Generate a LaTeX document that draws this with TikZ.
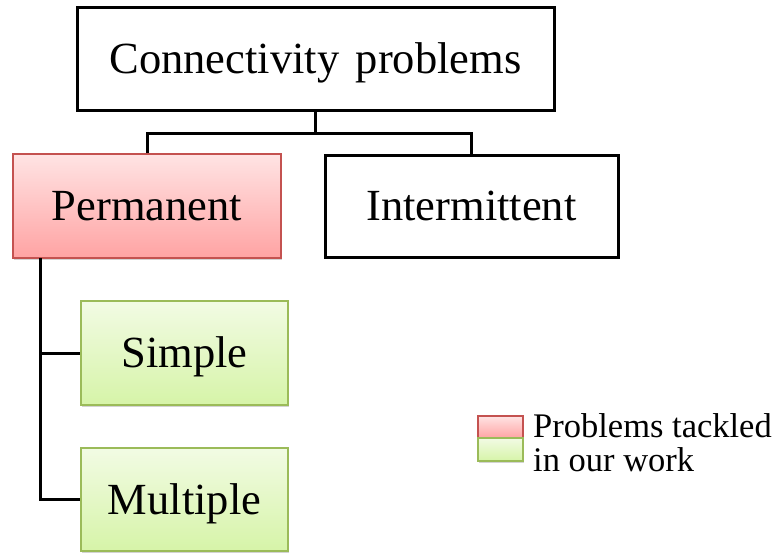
\documentclass[tikz,border=0pt]{standalone}
\usepackage{fontspec}
\setmainfont{Liberation Serif}
\usetikzlibrary{shadows}
\definecolor{redtop}{RGB}{255,228,228}
\definecolor{redbot}{RGB}{255,163,163}
\definecolor{redline}{RGB}{196,82,80}
\definecolor{greentop}{RGB}{242,251,228}
\definecolor{greenbot}{RGB}{214,244,168}
\definecolor{greenline}{RGB}{155,187,89}
\tikzset{
  boxtext/.style={inner sep=0pt, font=\fontsize{44.5}{50}\selectfont,
    text height=29.5pt, text depth=0pt},
  plainbox/.style={boxtext, draw=black, line width=3pt, fill=white},
  redbox/.style={boxtext, draw=redline, line width=1.4pt, top color=redtop, bottom color=redbot,
    drop shadow={shadow xshift=1pt, shadow yshift=-1.5pt, opacity=0.35}},
  greenbox/.style={boxtext, draw=greenline, line width=1.4pt, top color=greentop, bottom color=greenbot,
    drop shadow={shadow xshift=1pt, shadow yshift=-1.5pt, opacity=0.35}},
  conn/.style={draw=black, line width=3pt},
  legtext/.style={inner sep=0pt, font=\fontsize{34.5}{40}\selectfont}
}
\begin{document}
\begin{tikzpicture}[x=1pt,y=1pt]
\useasboundingbox (0,0) rectangle (775,-554);
\node[plainbox, minimum width=477pt, minimum height=103pt] (top) at (315.5,-58.5) {Connectivity\hspace{0.12em} problems};
\node[redbox, minimum width=268pt, minimum height=104pt] (perm) at (147,-206) {Permanent};
\node[plainbox, minimum width=293pt, minimum height=102pt] (inter) at (471.5,-206) {Intermittent};
\node[greenbox, minimum width=207pt, minimum height=104pt] (simple) at (184.5,-353) {Simple};
\node[greenbox, minimum width=207pt, minimum height=103pt] (mult) at (184.5,-499.5) {Multiple};
\coordinate (bar) at (315.5,-133);
\coordinate (trunk) at (40,-258);
\draw[conn] (top.south) -- (bar);
\draw[conn] (perm.north) |- (bar) -| (inter.north);
\draw[conn] (trunk) |- (mult.west);
\draw[conn] (trunk |- simple.west) -- (simple.west);
\node[draw=redline, line width=1.4pt, top color=redtop, bottom color=redbot, minimum width=45pt, minimum height=22pt, inner sep=0pt,
  drop shadow={shadow xshift=1pt, shadow yshift=-1.5pt, opacity=0.35}] (legr) at (500.5,-427) {};
\node[draw=greenline, line width=1.4pt, top color=greentop, bottom color=greenbot, minimum width=45pt, minimum height=23pt, inner sep=0pt,
  drop shadow={shadow xshift=1pt, shadow yshift=-1.5pt, opacity=0.35}] (legg) at (500.5,-449.5) {};
\node[legtext, anchor=base west] (leg1) at (533,-437) {Problems tackled};
\node[legtext, anchor=base west] (leg2) at (533,-471) {in our work};
\end{tikzpicture}
\end{document}
